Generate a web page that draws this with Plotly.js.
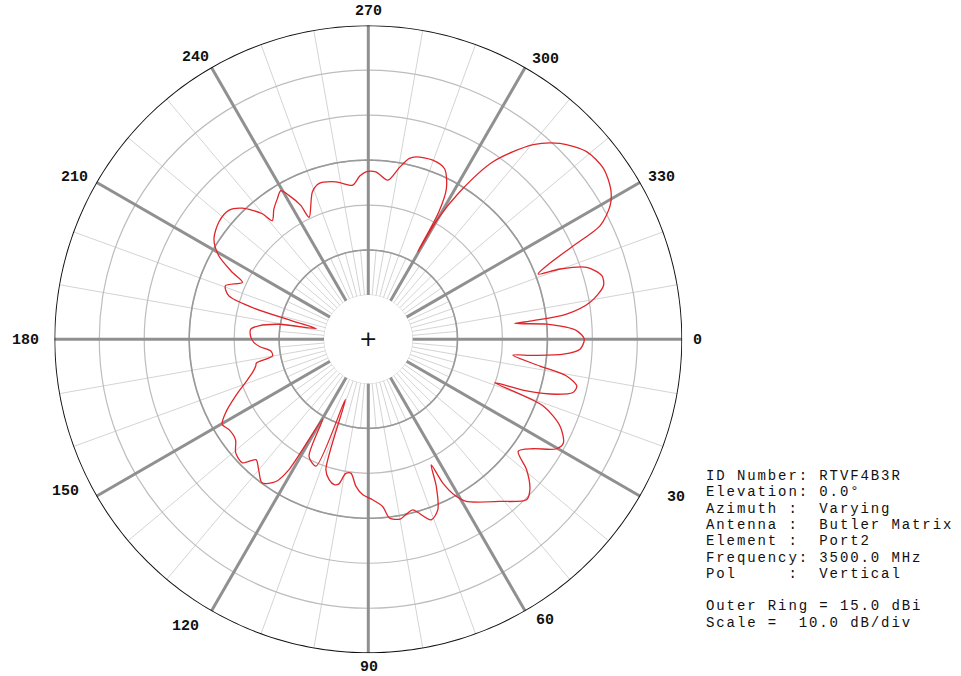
<!DOCTYPE html>
<html>
<head>
<meta charset="utf-8">
<script src="https://cdn.plot.ly/plotly-3.0.1.min.js"></script>
<style>
  html, body { margin: 0; padding: 0; background: #ffffff; }
  #chart { width: 961px; height: 676px; }
</style>
</head>
<body>
<div id="chart"></div>
<script>
// ---- data (azimuth in degrees, gain in dBi) ----
const azimuthDeg = [
  0, 2.7, 4.4, 5.6, 6.3, 8.9, 10.5, 12.7, 14.6, 16.3, 18.1, 19.0, 20.9, 24.4, 28.0, 30.2,
  33.6, 36.8, 39.5, 43.0, 45.4, 51.0, 58.9, 60.8, 62.6, 63.4, 65.2, 67.8, 70.8, 75.4, 77.5,
  80.0, 83.3, 85.1, 88.5, 92.0, 94.8, 97.4, 99.6, 101.5, 103.2, 105.6, 108.0, 110.8, 112.4,
  116.8, 119.7, 121.3, 123.0, 126.5, 130.0, 133.0, 135.5, 139.4, 142.9, 147.0, 149.7, 152.7,
  156.8, 160.5, 163.9, 166.6, 168.0, 170.1, 173.1, 176.0, 178.3, 181.0, 184.9, 187.0, 189.5,
  191.6, 193.6, 195.3, 197.3, 200.5, 204.3, 206.2, 209.2, 213.0, 218.1, 222.7, 226.1, 229.8,
  231.0, 234.0, 237.1, 239.5, 241.1, 243.2, 244.1, 249.2, 252.5, 258.4, 264.2, 267.0, 269.2,
  272.6, 277.0, 280.3, 282.8, 284.7, 289.8, 294.1, 297.4, 299.0, 299.5, 300.0, 301.8, 305.1,
  310.3, 314.4, 319.4, 324.0, 328.2, 331.1, 333.9, 335.5, 337.6, 339.0, 339.9, 341.8, 344.8,
  347.2, 350.6, 352.8, 353.6, 353.9, 355.2, 357.7, 360
];
const gainDbi = [
  -6.8, -7.7, -11.3, -18.0, -22.5, -16.2, -10.0, -7.3, -7.8, -11.2, -17.8, -25.1, -13.2, -8.0, -5.7, -6.4,
  -10.8, -13.2, -9.2, -5.7, -4.7, -8.4, -12.7, -14.8, -18.8, -23.6, -18.8, -13.9, -12.3, -15.6, -15.1,
  -14.2, -14.8, -17.5, -19.1, -20.2, -22.0, -24.8, -24.5, -22.0, -21.6, -22.4, -24.3, -40.5, -24.3,
  -25.6, -34.3, -20.9, -17.1, -15.1, -16.9, -18.2, -15.6, -16.0, -17.8, -17.9, -17.2, -19.1,
  -22.7, -25.8, -28.0, -29.1, -29.4, -33.2, -33.0, -30.7, -29.4, -28.7, -28.6, -30.3, -34.7,
  -43.0, -37.4, -28.0, -22.3, -20.9, -24.1, -21.1, -16.7, -13.9, -12.6, -12.6, -14.4, -18.3,
  -20.9, -19.1, -17.6, -16.5, -18.3, -21.5, -24.7, -19.8, -18.5, -19.1, -20.4, -18.5, -17.6,
  -17.6, -19.2, -16.0, -13.6, -12.9, -12.5, -13.3, -17.1, -22.5, -32.5, -24.0, -16.3, -6.6,
  1.9, 6.1, 9.2, 9.8, 8.6, 6.6, 2.6, -4.7, -11.9, -14.4, -9.4, -3.7, -1.0,
  -1.2, -4.9, -10.4, -17.9, -22.1, -15.0, -8.4, -6.8
];

// ---- axis definitions ----
const outerRing = 15;      // dBi
const innerRing = -45;     // dBi (hole edge)
const ringValues = [-35, -25, -15, -5, 5];
const darkRings = [-35, -15];
const majorSpokes = [0, 30, 60, 90, 120, 150, 180, 210, 240, 270, 300, 330];
const majorLabels = ['0', '30', '60', '90', '120', '150', '180', '210', '240', '270', '300', '330'];
const minorSpokes = [];
for (let a = 0; a < 360; a += 10) minorSpokes.push(a);
const shortSpokes = [];
for (let a = 5; a < 360; a += 10) shortSpokes.push(a);

const infoLines = [
  'ID Number: RTVF4B3R',
  'Elevation: 0.0\u00b0',
  'Azimuth :  Varying',
  'Antenna :  Butler Matrix',
  'Element :  Port2',
  'Frequency: 3500.0 MHz',
  'Pol     :  Vertical',
  '',
  'Outer Ring = 15.0 dBi',
  'Scale =  10.0 dB/div'
];

// ---- geometry of the plot (pixels) ----
const W = 961, H = 676;
const cx = 368.3, cy = 339.2, R = 314, holeR = 44.2;
// label offsets from the end of each major spoke (pixels)
const labelOffX = [14.7, 35.8, 19.7, 0.7, -26.3, -30.4, -29.3, -21.4, -15.3, 0.7, 19.7, 20.8];
const labelOffY = [0.8, 1.8, 8.9, 13.8, 14.9, -4.2, 0.8, -4.2, -9.3, -13.2, -7.3, -4.2];

// ---- build helper traces ----
function spokeTrace(angles, r0, r1, color, width) {
  const r = [], th = [];
  angles.forEach(a => { r.push(r0, r1, null); th.push(a, a, null); });
  return { type: 'scatterpolar', mode: 'lines', r: r, theta: th,
    line: { color: color, width: width }, hoverinfo: 'skip', showlegend: false, cliponaxis: false };
}
function ringTrace(val, color, width) {
  const th = [], r = [];
  for (let a = 0; a <= 360; a += 1) { th.push(a); r.push(val); }
  return { type: 'scatterpolar', mode: 'lines', r: r, theta: th,
    line: { color: color, width: width }, hoverinfo: 'skip', showlegend: false, cliponaxis: false };
}

const traces = [];
traces.push(spokeTrace(shortSpokes, innerRing, -35, '#d4d4d4', 1));
darkRings.forEach(v => traces.push(ringTrace(v, '#9a9a9a', 1.6)));
traces.push(ringTrace(innerRing, '#cfcfcf', 1));
traces.push(spokeTrace(majorSpokes, innerRing, outerRing, '#909090', 3));
traces.push(ringTrace(outerRing, '#111111', 2));
traces.push({
  type: 'scatterpolar', mode: 'lines', r: gainDbi, theta: azimuthDeg,
  line: { color: '#e0252a', width: 1.3, shape: 'spline', smoothing: 0.8 },
  hoverinfo: 'skip', showlegend: false
});

// ---- annotations ----
const annotations = [];
annotations.push({ xref: 'paper', yref: 'paper', x: cx / W, y: 1 - (cy - 1) / H,
  xanchor: 'center', yanchor: 'middle', showarrow: false, text: '+',
  font: { family: 'DejaVu Sans', size: 22, color: '#111' } });

majorSpokes.forEach((a, i) => {
  const rad = a * Math.PI / 180;
  const px = cx + R * Math.cos(rad) + labelOffX[i];
  const py = cy + R * Math.sin(rad) + labelOffY[i];
  annotations.push({ xref: 'paper', yref: 'paper', x: px / W, y: 1 - py / H,
    xanchor: 'center', yanchor: 'middle', showarrow: false, text: majorLabels[i], borderpad: 0,
    font: { family: 'Liberation Mono, Courier New, monospace', size: 15, color: '#111', weight: 'bold' } });
});

const lineBase = 476;
const lineStep = 16.3;
infoLines.forEach((t, i) => {
  if (!t) return;
  annotations.push({ xref: 'paper', yref: 'paper', x: 705 / W, y: 1 - (lineBase + i * lineStep) / H,
    xanchor: 'left', yanchor: 'middle', align: 'left', showarrow: false, borderpad: 0,
    text: t.replace(/ /g, '\u00a0'),
    font: { family: 'Liberation Mono, Courier New, monospace', size: 14, color: '#111' } });
});

const layout = {
  width: W, height: H,
  margin: { l: 0, r: 0, t: 0, b: 0 },
  paper_bgcolor: '#ffffff',
  showlegend: false,
  polar: {
    domain: { x: [(cx - R) / W, (cx + R) / W], y: [(H - cy - R) / H, (H - cy + R) / H] },
    bgcolor: '#ffffff',
    hole: holeR / R,
    radialaxis: {
      range: [innerRing, outerRing],
      tickvals: ringValues,
      showticklabels: false, ticks: '',
      showline: false,
      gridcolor: '#bdbdbd', gridwidth: 1.2
    },
    angularaxis: {
      rotation: 0, direction: 'clockwise',
      tickmode: 'array', tickvals: minorSpokes,
      showticklabels: false, ticks: '',
      showline: false,
      gridcolor: '#d4d4d4', gridwidth: 1
    }
  },
  annotations: annotations
};

Plotly.newPlot('chart', traces, layout, { displayModeBar: false, staticPlot: true }).then(() => {
  const infoSet = new Set(infoLines.filter(t => t).map(t => t.replace(/ /g, '\u00a0')));
  document.querySelectorAll('text.annotation-text').forEach(el => {
    if (infoSet.has(el.textContent)) el.style.letterSpacing = '1.9px';
  });
});
</script>
</body>
</html>
